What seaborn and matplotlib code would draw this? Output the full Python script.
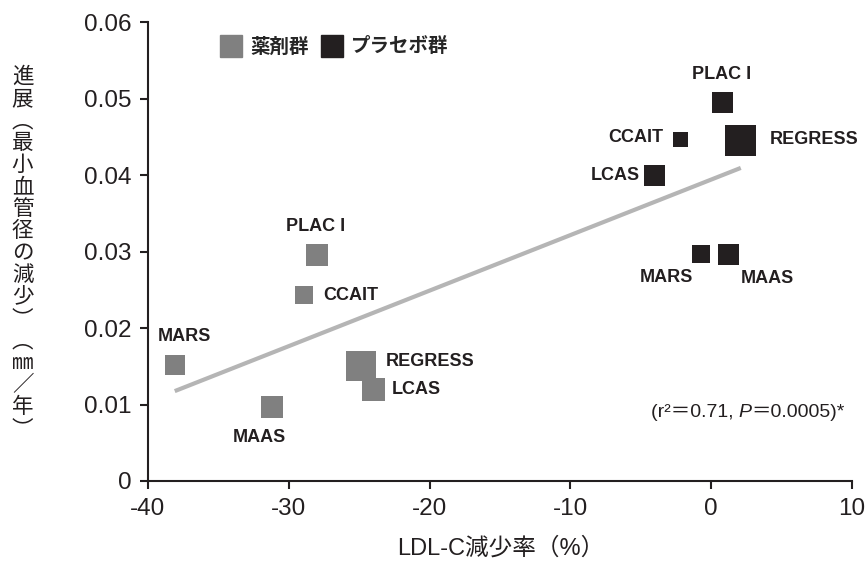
import numpy as np
import pandas as pd
import matplotlib
matplotlib.use('Agg')
import matplotlib.pyplot as plt
import seaborn as sns
from matplotlib.lines import Line2D

# 各試験のデータ（LDL-C減少率 %, 最小血管径の減少 mm/年）
studies = ['MARS', 'MAAS', 'PLAC I', 'CCAIT', 'REGRESS', 'LCAS']
drug_x = [-38.1, -31.2, -28.0, -28.9, -24.9, -24.0]
drug_y = [0.0152, 0.0097, 0.0296, 0.0243, 0.0151, 0.0120]
placebo_x = [-0.7, 1.2, 0.8, -2.2, 2.1, -4.0]
placebo_y = [0.0297, 0.0296, 0.0495, 0.0447, 0.0445, 0.0399]
# マーカーの大きさ（一辺, px）
drug_side = [20, 22, 22, 18, 30, 23]
placebo_side = [18, 21, 21, 15, 31, 21]

groups = ['薬剤群', 'プラセボ群']
colors = {'薬剤群': '#808080', 'プラセボ群': '#231f20'}

x_ticks = [-40, -30, -20, -10, 0, 10]
y_ticks = [0, 0.01, 0.02, 0.03, 0.04, 0.05, 0.06]
y_ticklabels = ['0', '0.01', '0.02', '0.03', '0.04', '0.05', '0.06']

df = pd.DataFrame({
    'study': studies * 2,
    'x': drug_x + placebo_x,
    'y': drug_y + placebo_y,
    'side': drug_side + placebo_side,
    'group': [groups[0]] * 6 + [groups[1]] * 6,
})

sns.set_style('ticks')
plt.rcParams['font.family'] = ['Liberation Sans', 'Noto Sans CJK JP', 'DejaVu Sans']
plt.rcParams['axes.unicode_minus'] = False  # "-40" をハイフンで表示

fig = plt.figure(figsize=(8.67, 5.75), dpi=100)
ax = fig.add_axes([0.1707, 0.1635, 0.812, 0.798])

# 回帰直線
sns.regplot(data=df, x='x', y='y', scatter=False, ci=None, ax=ax,
            line_kws={'color': '#b5b5b5', 'lw': 3, 'solid_capstyle': 'butt'})

for g in groups:
    sub = df[df['group'] == g]
    sns.scatterplot(data=sub, x='x', y='y', ax=ax, marker='s', color=colors[g],
                    s=(sub['side'] * 0.72) ** 2, linewidth=0, legend=False, zorder=3)

# 試験名ラベル（オフセット: points）
drug_offsets = {'MARS': (7, 20, 'center'), 'MAAS': (-9, -22, 'center'),
                'PLAC I': (-1, 20, 'center'), 'CCAIT': (14, 0, 'left'),
                'REGRESS': (18, 3, 'left'), 'LCAS': (13, 0, 'left')}
placebo_offsets = {'MARS': (-6, -17, 'right'), 'MAAS': (9, -17, 'left'),
                   'PLAC I': (-1, 20, 'center'), 'CCAIT': (-12, 1, 'right'),
                   'REGRESS': (21, 1, 'left'), 'LCAS': (-11, 0, 'right')}
for _, r in df.iterrows():
    offs = drug_offsets if r['group'] == groups[0] else placebo_offsets
    dx, dy, ha = offs[r['study']]
    ax.annotate(r['study'], (r['x'], r['y']), xytext=(dx, dy), textcoords='offset points',
                ha=ha, va='center', fontsize=13, fontweight='bold', color='#231f20')

ax.set_xlim(-40, 10)
ax.set_ylim(0, 0.06)
ax.set_xticks(x_ticks)
ax.set_yticks(y_ticks)
ax.set_yticklabels(y_ticklabels)
ax.tick_params(labelsize=17.5, length=6, width=1.5, pad=6, color='#231f20', labelcolor='#231f20')
for s in ['left', 'bottom']:
    ax.spines[s].set_linewidth(1.5)
    ax.spines[s].set_color('#231f20')
sns.despine(ax=ax)
ax.set_xlabel('')
ax.set_ylabel('')

# 凡例
handles = [Line2D([], [], marker='s', ls='', color=colors[g], markersize=16) for g in groups]
leg = ax.legend(handles, groups, loc='upper left', bbox_to_anchor=(0.077, 1.005), ncol=2,
                frameon=False, handletextpad=0.4, columnspacing=0.55, handlelength=1.2,
                prop={'family': ['Noto Sans CJK JP'], 'weight': 'bold', 'size': 14})

# 統計
t1 = ax.text(0.714, 0.14, '(r²＝0.71, ', transform=ax.transAxes, fontsize=14, color='#231f20')
t2 = ax.annotate('P', xy=(1, 0), xycoords=t1, va='bottom', fontsize=14, style='italic',
                 color='#231f20')
ax.annotate('＝0.0005)*', xy=(1, 0), xycoords=t2, va='bottom', fontsize=14, color='#231f20')

fig.text(0.577, 0.047, 'LDL-C減少率（%）', ha='center', va='center', fontsize=17, color='#231f20')

ylab = '進展︵最小血管径の減少︶︵㎜／年︶'
fig.text(0.026, 0.56, '\n'.join(ylab), ha='center', va='center', fontsize=15.5,
         linespacing=1.0, family=['Noto Sans CJK JP'], color='#231f20')

fig.savefig('out.png', dpi=100)
